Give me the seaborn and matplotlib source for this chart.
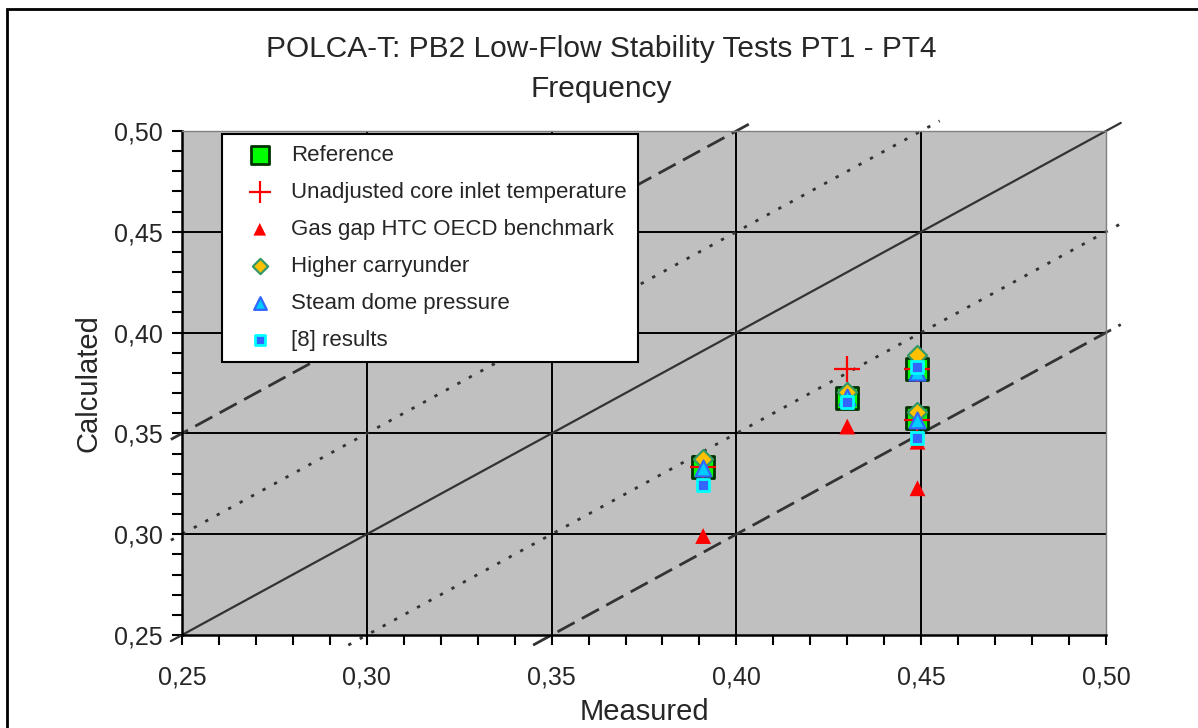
import numpy as np
import pandas as pd
import seaborn as sns
import matplotlib.pyplot as plt
from matplotlib.patches import Rectangle
from matplotlib.ticker import MultipleLocator, FuncFormatter

# measured frequency of the four tests (PT1 - PT4)
measured = [0.391, 0.430, 0.449, 0.449]

# calculated frequency per case
reference = [0.3335, 0.3675, 0.3818, 0.3575]
unadjusted = [0.3335, 0.3818, 0.3818, 0.3567]
gas_gap = [0.2991, 0.3534, 0.3459, 0.3228]
higher_carryunder = [0.3372, 0.3707, 0.3889, 0.3608]
steam_dome = [0.3330, 0.3680, 0.3806, 0.3567]
results_8 = [0.3244, 0.3655, 0.3831, 0.3476]

series_names = ['Reference', 'Unadjusted core inlet temperature', 'Gas gap HTC OECD benchmark',
                'Higher carryunder', 'Steam dome pressure', '[8] results']
series_values = [reference, unadjusted, gas_gap, higher_carryunder, steam_dome, results_8]

# reference lines y = x + offset
line_offsets = [0.0, 0.05, -0.05, 0.10, -0.10]

sns.set_style('white')
plt.rcParams['font.family'] = ['Liberation Sans', 'DejaVu Sans']

styles = {
    'Reference': dict(marker='s', s=250, color='#00FF00', edgecolor='#003300', linewidth=2.0),
    'Unadjusted core inlet temperature': dict(marker='+', s=360, color='#FF0000', linewidth=1.6),
    'Gas gap HTC OECD benchmark': dict(marker='^', s=130, color='#FF0000', edgecolor='none', linewidth=0),
    'Higher carryunder': dict(marker='D', s=95, color='#FFC000', edgecolor='#339966', linewidth=1.6),
    'Steam dome pressure': dict(marker='^', s=130, color='#00CCFF', edgecolor='#3366FF', linewidth=1.6),
    '[8] results': dict(marker='s', s=85, color='#3366FF', edgecolor='#00FFFF', linewidth=2.0),
}

fig = plt.figure(figsize=(11.98, 7.28), dpi=100)
ax = fig.add_axes([0.1519, 0.1277, 0.7713, 0.6924])
ax.set_facecolor('#C0C0C0')

# figure border
fig.patches.append(Rectangle((0.006, -0.01), 1.1, 0.998, transform=fig.transFigure,
                             fill=False, edgecolor='black', linewidth=2))

ax.set_xlim(0.25, 0.50)
ax.set_ylim(0.25, 0.50)

for v in np.arange(0.30, 0.50, 0.05):
    ax.axvline(v, color='black', linewidth=1.4, zorder=1)
    ax.axhline(v, color='black', linewidth=1.4, zorder=1)

# diagonal lines, drawn a little past the plot area like the original
x_lo, x_hi, y_lo, y_hi = 0.247, 0.504, 0.245, 0.505
for off in line_offsets:
    xa = max(x_lo, y_lo - off)
    xb = min(x_hi, y_hi - off)
    xs = [xa, xb]
    ys = [xa + off, xb + off]
    if off == 0:
        ls = dict(linestyle='-', linewidth=1.6)
    elif abs(off) < 0.07:
        ls = dict(linestyle=(0, (1.2, 3.5)), linewidth=2.0)
    else:
        ls = dict(linestyle=(0, (7, 3)), linewidth=2.0)
    ax.plot(xs, ys, color='#333333', zorder=2, clip_on=False, **ls)

for i, (name, vals) in enumerate(zip(series_names, series_values)):
    df = pd.DataFrame({'Measured': measured, 'Calculated': vals})
    sns.scatterplot(data=df, x='Measured', y='Calculated', ax=ax, label=name,
                    zorder=3 + i, **styles[name])

ax.xaxis.set_major_locator(MultipleLocator(0.05))
ax.yaxis.set_major_locator(MultipleLocator(0.05))
ax.xaxis.set_minor_locator(MultipleLocator(0.01))
ax.yaxis.set_minor_locator(MultipleLocator(0.01))
fmt = FuncFormatter(lambda v, p: f'{v:.2f}'.replace('.', ','))
ax.xaxis.set_major_formatter(fmt)
ax.yaxis.set_major_formatter(fmt)
ax.tick_params(axis='both', which='both', direction='out', length=7, width=1.5, color='black',
               bottom=True, left=True)
ax.tick_params(axis='x', which='major', labelsize=18, pad=15)
ax.tick_params(axis='y', which='major', labelsize=18, pad=7)

for side in ['left', 'bottom']:
    ax.spines[side].set_color('black')
    ax.spines[side].set_linewidth(1.8)
for side in ['top', 'right']:
    ax.spines[side].set_color('#808080')
    ax.spines[side].set_linewidth(1.0)

ax.set_xlabel('Measured', fontsize=21)
ax.set_ylabel('Calculated', fontsize=21)
ax.xaxis.set_label_coords(0.5, -0.125)
ax.yaxis.set_label_coords(-0.086, 0.5)

leg = ax.legend(loc='upper left', bbox_to_anchor=(0.0433, 0.994), fontsize=16, frameon=True,
                fancybox=False, edgecolor='black', framealpha=1, markerscale=0.8,
                handlelength=2.4, handletextpad=0.2, labelspacing=0.72, borderpad=0.5,
                borderaxespad=0)
leg.get_frame().set_linewidth(1.5)
leg.set_zorder(20)

fig.text(0.5017, 0.952, 'POLCA-T: PB2 Low-Flow Stability Tests PT1 - PT4\nFrequency',
         ha='center', va='top', fontsize=21.5, linespacing=1.55)

fig.savefig('out.png', dpi=100)
